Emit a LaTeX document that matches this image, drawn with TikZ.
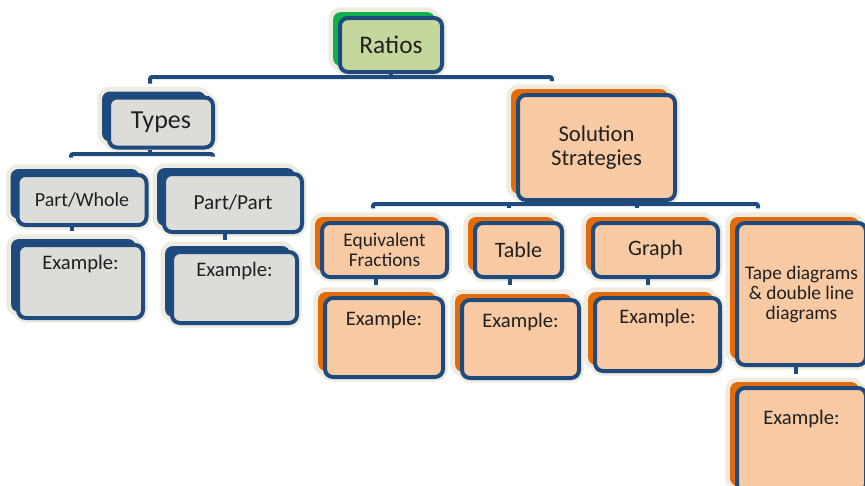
\documentclass[tikz,border=0pt]{standalone}
\usepackage{fontspec}
\setmainfont{Carlito}
\usetikzlibrary{shadows}
\definecolor{navy}{HTML}{1F4A7E}
\definecolor{halo}{HTML}{EEECE1}
\definecolor{lgreen}{HTML}{C4D89D}
\definecolor{dgreen}{HTML}{0DB04B}
\definecolor{lgray}{HTML}{DCDDD8}
\definecolor{peach}{HTML}{F8CAA4}
\definecolor{dorange}{HTML}{E36C09}
\definecolor{txt}{HTML}{202020}
\tikzset{
  base/.style={draw=navy, line width=3pt, rounded corners=6pt, align=center,
    inner sep=0pt, text=txt,
    general shadow={draw=halo, fill=halo, line width=7pt, shadow xshift=-5.25pt, shadow yshift=4.5pt},
    general shadow={draw=halo, fill=halo, line width=7pt}},
  gbox/.style={base, fill=lgreen,
    general shadow={draw=none, fill=dgreen, shadow xshift=-5.25pt, shadow yshift=4.5pt}},
  nbox/.style={base, fill=lgray,
    general shadow={draw=none, fill=navy, shadow xshift=-5.25pt, shadow yshift=4.5pt}},
  obox/.style={base, fill=peach,
    general shadow={draw=none, fill=dorange, shadow xshift=-5.25pt, shadow yshift=4.5pt}},
  sz/.style 2 args={minimum width=#1*0.75pt, minimum height=#2*0.75pt},
  fs/.style 2 args={font=\fontsize{#1}{#2}\selectfont},
  extext/.style={label={[anchor=north, inner sep=0pt, yshift=#1, text=txt,
    font=\fontsize{15.5}{18}\selectfont]north:Example:}},
  extext/.default=-9pt,
  conn/.style={draw=navy, line width=3pt, rounded corners=1.5pt},
}
\begin{document}
\begin{tikzpicture}[x=0.75pt,y=-0.75pt]
\useasboundingbox (0,0) rectangle (865,486);
% top
\node[gbox, sz={102}{54}, fs={19}{23}] (ratios) at (391,45) {Ratios};
% left branch
\node[nbox, sz={104}{50}, fs={19.5}{23}] (types) at (161,122.5) {Types};
\node[nbox, sz={129}{50}, fs={15}{18}] (pw) at (82,200) {Part/Whole};
\node[nbox, sz={138}{58}, fs={16}{19}] (pp) at (233,203) {Part/Part};
\node[nbox, sz={125}{73}, extext] (expw) at (80.5,281.5) {};
\node[nbox, sz={125}{71}, extext] (expp) at (234.5,287.5) {};
% right branch
\node[obox, sz={157}{105}, fs={17}{18}] (sol) at (596.5,147.5) {Solution\\Strategies};
\node[obox, sz={125}{54}, fs={14.5}{15}] (ef) at (384.5,250) {Equivalent\\Fractions};
\node[obox, sz={87}{54}, fs={16.5}{19}] (tab) at (518.5,250) {Table};
\node[obox, sz={125}{54}, fs={16.5}{19}] (gra) at (655.5,250) {Graph};
\node[obox, sz={129}{142}, fs={14.5}{15}] (tape) at (801.5,294) {Tape diagrams\\\& double line\\diagrams};
\node[obox, sz={118}{79}, extext=-11pt] (exef) at (384,337.5) {};
\node[obox, sz={117}{78}, extext=-11pt] (extab) at (520.5,339) {};
\node[obox, sz={125}{73}, extext=-9.5pt] (exgra) at (657.5,334.5) {};
\node[obox, sz={129}{104}, extext=-18pt] (extape) at (801.5,440) {};
% buses
\coordinate (b0) at (0,77);
\coordinate (b1) at (0,154);
\coordinate (b2) at (0,204);
\draw[conn] (ratios.south) -- (ratios.south |- b0);
\draw[conn, shorten <=9pt, shorten >=9pt] ([xshift=-8.25pt]types.north) -- ([xshift=-8.25pt]types.north |- b0) -- ([xshift=-33.4pt]sol.north |- b0) -- ([xshift=-33.4pt]sol.north);
\draw[conn] ([xshift=-8.25pt]types.south) -- ([xshift=-8.25pt]types.south |- b1);
\draw[conn, shorten <=11.5pt, shorten >=11.5pt] ([xshift=-8.25pt]pw.north) -- ([xshift=-8.25pt]pw.north |- b1) -- ([xshift=-15pt]pp.north |- b1) -- ([xshift=-15pt]pp.north);
\draw[conn] ([xshift=-15pt]sol.south) -- ([xshift=-15pt]sol.south |- b2);
\draw[conn, shorten <=9.5pt, shorten >=9.5pt] ([xshift=-8.6pt]ef.north) -- ([xshift=-8.6pt]ef.north |- b2) -- ([xshift=-32.6pt]tape.north |- b2) -- ([xshift=-32.6pt]tape.north);
\draw[conn, shorten >=9.5pt] ([xshift=-7.1pt]tab.north |- b2) -- ([xshift=-7.1pt]tab.north);
\draw[conn, shorten >=9.5pt] ([xshift=-13.9pt]gra.north |- b2) -- ([xshift=-13.9pt]gra.north);
% vertical links to examples
\draw[conn, shorten >=9pt] ([xshift=-7.5pt]pw.south) -- ([xshift=-7.5pt]pw.south |- expw.north);
\draw[conn, shorten >=7.5pt] ([xshift=-6pt]pp.south) -- ([xshift=-6pt]pp.south |- expp.north);
\draw[conn, shorten >=8pt] ([xshift=-6.4pt]ef.south) -- ([xshift=-6.4pt]ef.south |- exef.north);
\draw[conn, shorten >=9.5pt] ([xshift=-6.4pt]tab.south) -- ([xshift=-6.4pt]tab.south |- extab.north);
\draw[conn, shorten >=8pt] ([xshift=-5.6pt]gra.south) -- ([xshift=-5.6pt]gra.south |- exgra.north);
\draw[conn, shorten >=9pt] ([xshift=-4pt]tape.south) -- ([xshift=-4pt]tape.south |- extape.north);
\end{tikzpicture}
\end{document}
